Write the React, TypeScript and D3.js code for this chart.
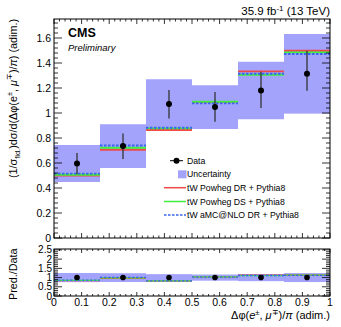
import React from "react";
import * as d3 from "d3";

// bins of delta-phi / pi
const binEdges = [0, 0.1667, 0.3333, 0.5, 0.6667, 0.8333, 1];
const dataValues = [0.597, 0.736, 1.072, 1.048, 1.18, 1.314];
const dataErrLow = [0.51, 0.632, 0.957, 0.93, 1.04, 1.178];
const dataErrHigh = [0.68, 0.837, 1.184, 1.168, 1.33, 1.498];
const uncLow = [0.448, 0.56, 0.858, 0.872, 0.95, 0.995];
const uncHigh = [0.744, 0.91, 1.27, 1.222, 1.41, 1.632];
const powhegDR = [0.5, 0.706, 0.864, 1.088, 1.333, 1.498];
const powhegDS = [0.506, 0.722, 0.877, 1.09, 1.306, 1.485];
const amcDR = [0.515, 0.74, 0.882, 1.077, 1.314, 1.472];

const xTicks = [0, 0.1, 0.2, 0.3, 0.4, 0.5, 0.6, 0.7, 0.8, 0.9, 1];
const xTickLabels = ["0", "0.1", "0.2", "0.3", "0.4", "0.5", "0.6", "0.7", "0.8", "0.9", "1"];
const mainYTicks = [0, 0.2, 0.4, 0.6, 0.8, 1, 1.2, 1.4, 1.6];
const mainYLabels = ["0", "0.2", "0.4", "0.6", "0.8", "1", "1.2", "1.4", "1.6"];
const ratioYTicks = [0, 0.5, 1, 1.5, 2, 2.5];
const ratioYLabels = ["0", "0.5", "1", "1.5", "2", "2.5"];

const BAND = "#a3a3fb";
const RED = "#f04848";
const GREEN = "#40ee40";
const BLUE = "#3a63f0";
const FONT = "'Liberation Sans', Arial, sans-serif";

const models = [
  { name: "tW Powheg DR + Pythia8", values: powhegDR, color: RED, dash: "none" },
  { name: "tW Powheg DS + Pythia8", values: powhegDS, color: GREEN, dash: "none" },
  { name: "tW aMC@NLO DR + Pythia8", values: amcDR, color: BLUE, dash: "2.5,1.5" },
];

const App = () => {
  const left = 54;
  const right = 330;
  const x = d3.scaleLinear().domain([0, 1]).range([left, right]);
  const y = d3.scaleLinear().domain([0, 1.752]).range([238, 19]);
  const yr = d3.scaleLinear().domain([0, 2.55]).range([296, 249]);

  const minorX = d3.range(0, 51).map((i) => i * 0.02);
  const minorY = d3.range(0, 44).map((i) => i * 0.04);
  const minorYr = d3.range(0, 26).map((i) => i * 0.1);

  const bins = dataValues.map((v, i) => ({
    x0: binEdges[i],
    x1: binEdges[i + 1],
    c: (binEdges[i] + binEdges[i + 1]) / 2,
    v,
  }));

  const frame = (yScale: any, majorY: number[], minorYs: number[], xLen: number[], showXLabels: boolean) => {
    const [y0, y1] = yScale.range();
    const ymax = yScale.domain()[1];
    return (
      <g>
        <rect x={left} y={y1} width={right - left} height={y0 - y1} fill="none" stroke="#000" strokeWidth={1} />
        {minorX.map((t, i) => {
          const major = i % 5 === 0;
          const l = major ? xLen[0] : xLen[1];
          return (
            <g key={"x" + i}>
              <line x1={x(t)} x2={x(t)} y1={y0} y2={y0 - l} stroke="#000" strokeWidth={0.8} />
              <line x1={x(t)} x2={x(t)} y1={y1} y2={y1 + l} stroke="#000" strokeWidth={0.8} />
            </g>
          );
        })}
        {minorYs.filter((t) => t <= ymax).map((t, i) => {
          const major = majorY.some((m) => Math.abs(m - t) < 1e-6);
          const l = major ? 8 : 4;
          return (
            <g key={"y" + i}>
              <line x1={left} x2={left + l} y1={yScale(t)} y2={yScale(t)} stroke="#000" strokeWidth={0.8} />
              <line x1={right} x2={right - l} y1={yScale(t)} y2={yScale(t)} stroke="#000" strokeWidth={0.8} />
            </g>
          );
        })}
        {showXLabels &&
          xTicks.map((t, i) => (
            <text key={"xl" + i} x={x(t)} y={306} fontSize={10.5} textAnchor="middle" fontFamily={FONT}>
              {xTickLabels[i]}
            </text>
          ))}
      </g>
    );
  };

  const legendRows = [160.7, 174.3, 187.7, 201.5, 215];

  return (
    <div style={{ position: "absolute", left: 0, top: 0 }}>
      <svg width={341} height={327} style={{ display: "block" }} fontFamily={FONT}>
        <rect width={341} height={327} fill="#fff" />

        {/* main panel bands */}
        {bins.map((b, i) => (
          <rect key={"u" + i} x={x(b.x0)} y={y(uncHigh[i])} width={x(b.x1) - x(b.x0)}
            height={y(uncLow[i]) - y(uncHigh[i])} fill={BAND} />
        ))}
        {models.map((m) =>
          bins.map((b, i) => (
            <line key={m.name + i} x1={x(b.x0)} x2={x(b.x1)} y1={y(m.values[i])} y2={y(m.values[i])}
              stroke={m.color} strokeWidth={1.8} strokeDasharray={m.dash} />
          ))
        )}
        {bins.map((b, i) => (
          <g key={"d" + i}>
            <line x1={x(b.c)} x2={x(b.c)} y1={y(dataErrLow[i])} y2={y(dataErrHigh[i])} stroke="#333" strokeWidth={1.3} />
            <circle cx={x(b.c)} cy={y(b.v)} r={3} fill="#000" />
          </g>
        ))}
        {frame(y, mainYTicks, minorY, [5, 2.5], false)}
        {mainYTicks.map((t, i) => (
          <text key={"yl" + i} x={51} y={y(t)} dy="0.35em" fontSize={10.5} textAnchor="end">
            {mainYLabels[i]}
          </text>
        ))}

        {/* ratio panel */}
        {bins.map((b, i) => (
          <rect key={"ru" + i} x={x(b.x0)} y={yr(uncHigh[i] / b.v)} width={x(b.x1) - x(b.x0)}
            height={yr(uncLow[i] / b.v) - yr(uncHigh[i] / b.v)} fill={BAND} />
        ))}
        {models.map((m) =>
          bins.map((b, i) => (
            <line key={"r" + m.name + i} x1={x(b.x0)} x2={x(b.x1)} y1={yr(m.values[i] / b.v)} y2={yr(m.values[i] / b.v)}
              stroke={m.color} strokeWidth={1.3} strokeDasharray={m.dash} />
          ))
        )}
        {bins.map((b, i) => (
          <circle key={"rd" + i} cx={x(b.c)} cy={yr(1)} r={2.8} fill="#000" />
        ))}
        {frame(yr, ratioYTicks, minorYr, [4, 2], true)}
        {ratioYTicks.map((t, i) => (
          <text key={"ryl" + i} x={52} y={yr(t)} dy="0.35em" fontSize={10} textAnchor="end">
            {ratioYLabels[i]}
          </text>
        ))}

        {/* legend */}
        <line x1={170} x2={183} y1={legendRows[0]} y2={legendRows[0]} stroke="#000" strokeWidth={1} />
        <circle cx={176.5} cy={legendRows[0]} r={3} fill="#000" />
        <rect x={178} y={legendRows[1] - 4} width={8.5} height={8} fill={BAND} />
        {models.map((m, i) => (
          <line key={"lg" + i} x1={164} x2={186} y1={legendRows[i + 2]} y2={legendRows[i + 2]}
            stroke={m.color} strokeWidth={1.5} strokeDasharray={m.dash} />
        ))}
        {["Data", "Uncertainty", ...models.map((m) => m.name)].map((s, i) => (
          <text key={"lt" + i} x={187} y={legendRows[i]} dy="0.35em" fontSize={8.7}>
            {s}
          </text>
        ))}

        {/* titles */}
        <text x={68} y={37} fontSize={12.5} fontWeight="bold">CMS</text>
        <text x={68} y={51} fontSize={9.5} fontStyle="italic">Preliminary</text>
        <text x={330} y={15} fontSize={11.5} textAnchor="end">
          35.9 fb<tspan dy={-4.5} fontSize={8}>-1</tspan><tspan dy={4.5}> (13 TeV)</tspan>
        </text>
        <text x={330} y={319} fontSize={11} textAnchor="end">
          Δφ(<tspan fontStyle="italic">e</tspan><tspan dy={-4.5} fontSize={7.5}>±</tspan>
          <tspan dy={4.5}>, </tspan><tspan fontStyle="italic">μ</tspan><tspan dy={-4.5} fontSize={7.5}>∓</tspan>
          <tspan dy={4.5}>)/</tspan><tspan fontStyle="italic">π</tspan> (adim.)
        </text>
        <text transform="translate(16.5,19) rotate(-90)" fontSize={10.8} textAnchor="end">
          (1/σ<tspan dy={3} fontSize={7.5}>fid.</tspan><tspan dy={-3}>)dσ/d(Δφ(e</tspan>
          <tspan dy={-4.5} fontSize={7.5}>±</tspan><tspan dy={4.5}>, </tspan>
          <tspan fontStyle="italic">μ</tspan>
          <tspan dy={-4.5} fontSize={7.5}>∓</tspan><tspan dy={4.5}>)/</tspan>
          <tspan fontStyle="italic">π</tspan>) (adim.)
        </text>
        <text transform="translate(16.5,300) rotate(-90)" fontSize={10.8} textAnchor="start">
          Pred./Data
        </text>
      </svg>
    </div>
  );
};

export default App;
